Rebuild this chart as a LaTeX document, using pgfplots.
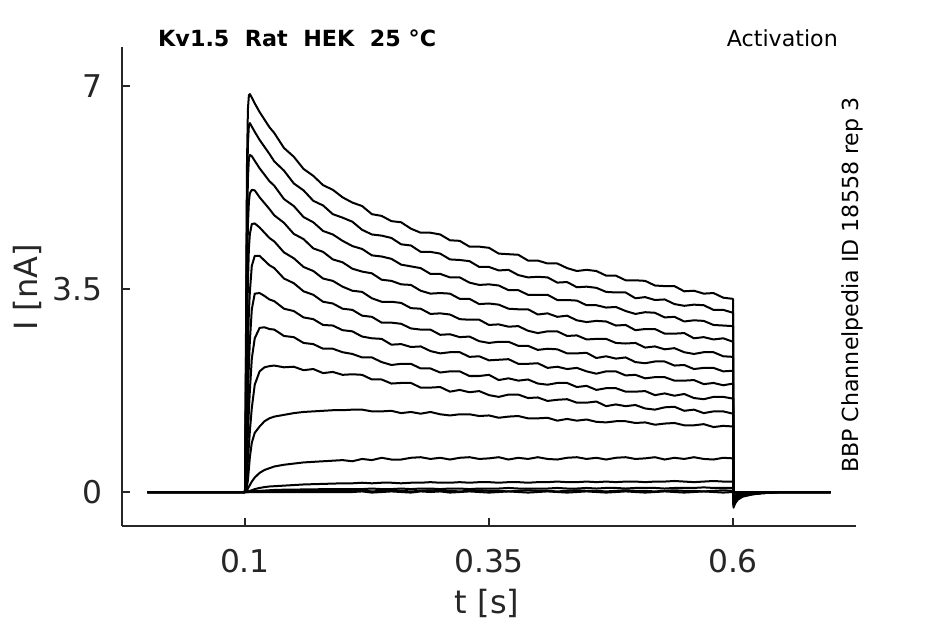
\documentclass[border=0pt]{standalone}
\usepackage{fontspec}
\setmainfont{DejaVu Sans}
\usepackage{pgfplots}
\usepackage{pgfplotstable}
\pgfplotsset{compat=1.18}
\definecolor{axgray}{rgb}{0.15,0.15,0.15}

\pgfplotstableread{
t c1 c2 c3 c4 c5 c6 c7 c8 c9 c10 c11 c12 c13 c14 c15
0 0 0 0 0 0 0 0 0 0 0 0 0 0 0 0
0.02 0 0 0 0 0 0 0 0 0 0 0 0 0 0 0
0.04 0 0 0 0 0 0 0 0 0 0 0 0 0 0 0
0.06 0 0 0 0 0 0 0 0 0 0 0 0 0 0 0
0.08 0 0 0 0 0 0 0 0 0 0 0 0 0 0 0
0.1 0 0 0 0 0 0 0 0 0 0 0 0 0 0 0
0.101 2.6 2.2 1.8 1.4 1.0 0.6 0.4 0.2 0.1 0.03 0.01 0 0 0 0
0.102 5.6 5.0 4.4 3.6 2.6 1.6 1.0 0.6 0.3 0.1 0.03 0.005 0 0 0
0.103 6.6 6.0 5.4 4.6 3.6 2.5 1.6 1.0 0.55 0.2 0.06 0.01 0.005 0 0
0.104 6.84 6.32 5.75 5.0 4.2 3.1 2.2 1.4 0.8 0.4 0.09 0.015 0.005 0 0
0.105 6.86 6.36 5.81 5.15 4.45 3.45 2.6 1.75 1.05 0.6 0.12 0.02 0.01 0.005 0
0.107 6.80 6.30 5.79 5.21 4.62 3.90 3.15 2.3 1.45 0.85 0.18 0.03 0.01 0.005 0
0.11 6.70 6.21 5.71 5.20 4.63 4.07 3.42 2.65 1.85 1.02 0.25 0.05 0.015 0.01 0
0.115 6.55 6.07 5.58 5.08 4.56 4.07 3.43 2.83 2.08 1.13 0.33 0.07 0.02 0.01 0
0.12 6.42 5.95 5.47 4.98 4.47 3.99 3.38 2.84 2.15 1.22 0.38 0.085 0.025 0.01 0
0.125 6.29 5.83 5.36 4.88 4.38 3.91 3.32 2.81 2.17 1.27 0.41 0.095 0.03 0.015 0
0.13 6.19 5.70 5.28 4.77 4.32 3.86 3.29 2.80 2.18 1.30 0.44 0.10 0.035 0.015 0
0.14 5.93 5.54 5.05 4.64 4.13 3.68 3.16 2.69 2.15 1.33 0.47 0.11 0.04 0.02 0
0.15 5.78 5.32 4.93 4.45 4.03 3.60 3.12 2.67 2.16 1.36 0.49 0.12 0.04 0.02 0
0.16 5.57 5.20 4.74 4.36 3.88 3.46 3.01 2.57 2.10 1.38 0.51 0.13 0.045 0.02 0
0.17 5.45 5.02 4.65 4.20 3.81 3.40 2.98 2.55 2.12 1.39 0.52 0.135 0.045 0.02 0
0.18 5.29 4.94 4.50 4.14 3.68 3.28 2.88 2.47 2.05 1.40 0.53 0.14 0.05 0.02 0
0.19 5.21 4.79 4.44 4.01 3.64 3.25 2.87 2.47 2.07 1.41 0.54 0.145 0.05 0.02 0
0.20 5.08 4.73 4.33 3.96 3.54 3.16 2.79 2.41 2.02 1.41 0.55 0.15 0.05 0.02 0
0.21 4.99 4.66 4.24 3.85 3.47 3.14 2.77 2.38 2.03 1.42 0.53 0.15 0.05 0.02 0.00
0.22 4.93 4.52 4.19 3.80 3.45 3.04 2.68 2.32 2.02 1.42 0.57 0.16 0.05 0.03 0.01
0.23 4.79 4.44 4.08 3.77 3.34 3.02 2.65 2.32 1.94 1.39 0.55 0.15 0.06 0.01 -0.01
0.24 4.76 4.42 4.06 3.66 3.28 2.92 2.64 2.24 1.94 1.39 0.59 0.16 0.05 0.02 0.00
0.25 4.67 4.38 4.02 3.64 3.28 2.92 2.54 2.19 1.87 1.40 0.56 0.16 0.05 0.03 0.01
0.26 4.65 4.27 3.92 3.58 3.26 2.90 2.55 2.21 1.88 1.36 0.56 0.15 0.06 0.02 0.00
0.27 4.54 4.25 3.89 3.57 3.17 2.82 2.50 2.21 1.88 1.38 0.59 0.16 0.05 0.01 -0.01
0.28 4.47 4.14 3.86 3.47 3.16 2.80 2.51 2.13 1.80 1.35 0.60 0.16 0.06 0.02 0.01
0.29 4.47 4.14 3.76 3.42 3.07 2.80 2.43 2.13 1.80 1.38 0.57 0.17 0.06 0.03 0.00
0.30 4.44 4.11 3.76 3.43 3.08 2.71 2.39 2.06 1.81 1.34 0.59 0.16 0.05 0.02 0.01
0.31 4.34 4.01 3.70 3.42 3.06 2.72 2.41 2.08 1.73 1.32 0.56 0.16 0.06 0.02 -0.01
0.32 4.33 4.00 3.70 3.33 2.98 2.67 2.41 2.08 1.76 1.34 0.59 0.17 0.06 0.01 0.00
0.33 4.23 3.98 3.61 3.33 2.97 2.68 2.33 2.00 1.72 1.34 0.60 0.16 0.05 0.02 0.01
0.34 4.23 3.88 3.57 3.24 2.97 2.60 2.34 2.00 1.74 1.31 0.57 0.17 0.06 0.03 0.00
0.35 4.21 3.88 3.58 3.25 2.88 2.57 2.27 2.02 1.67 1.32 0.58 0.17 0.06 0.02 -0.01
0.36 4.11 3.82 3.56 3.23 2.89 2.59 2.28 1.93 1.64 1.28 0.60 0.16 0.06 0.02 0.00
0.37 4.10 3.83 3.48 3.16 2.85 2.59 2.29 1.96 1.68 1.30 0.56 0.17 0.07 0.01 0.01
0.38 4.09 3.74 3.48 3.15 2.86 2.52 2.21 1.92 1.68 1.31 0.59 0.17 0.06 0.02 0.00
0.39 3.99 3.70 3.40 3.15 2.78 2.52 2.21 1.94 1.62 1.27 0.57 0.16 0.06 0.03 -0.01
0.40 3.99 3.71 3.40 3.06 2.74 2.45 2.22 1.87 1.63 1.27 0.60 0.17 0.06 0.02 0.00
0.41 3.94 3.70 3.40 3.08 2.77 2.47 2.14 1.85 1.57 1.28 0.57 0.17 0.06 0.02 0.01
0.42 3.94 3.61 3.31 3.02 2.77 2.46 2.16 1.88 1.59 1.23 0.56 0.18 0.07 0.01 0.00
0.43 3.86 3.62 3.31 3.04 2.69 2.39 2.12 1.88 1.60 1.26 0.59 0.17 0.06 0.02 -0.01
0.44 3.81 3.53 3.30 2.96 2.70 2.39 2.14 1.81 1.54 1.23 0.60 0.17 0.06 0.03 0.00
0.45 3.83 3.54 3.22 2.93 2.63 2.40 2.08 1.83 1.54 1.25 0.57 0.18 0.07 0.02 0.01
0.46 3.81 3.52 3.22 2.95 2.64 2.31 2.04 1.76 1.56 1.21 0.59 0.17 0.06 0.02 0.00
0.47 3.73 3.45 3.18 2.94 2.64 2.34 2.08 1.79 1.48 1.20 0.56 0.18 0.07 0.01 -0.01
0.48 3.73 3.44 3.19 2.87 2.57 2.30 2.08 1.79 1.51 1.22 0.59 0.17 0.07 0.02 0.00
0.49 3.65 3.44 3.12 2.88 2.56 2.32 2.01 1.73 1.48 1.22 0.60 0.18 0.06 0.03 0.01
0.50 3.65 3.34 3.07 2.79 2.57 2.24 2.02 1.73 1.50 1.19 0.57 0.18 0.07 0.02 0.00
0.51 3.64 3.36 3.10 2.81 2.49 2.22 1.96 1.74 1.44 1.20 0.58 0.17 0.07 0.02 -0.01
0.52 3.56 3.31 3.09 2.81 2.51 2.25 1.98 1.67 1.42 1.16 0.60 0.18 0.07 0.01 0.00
0.53 3.55 3.32 3.01 2.73 2.46 2.25 1.98 1.70 1.46 1.18 0.56 0.18 0.06 0.02 0.01
0.54 3.55 3.24 3.02 2.73 2.48 2.18 1.92 1.66 1.47 1.19 0.59 0.19 0.07 0.03 0.00
0.55 3.46 3.21 2.94 2.74 2.41 2.19 1.92 1.69 1.40 1.15 0.57 0.18 0.07 0.02 -0.01
0.56 3.47 3.23 2.96 2.65 2.38 2.12 1.93 1.62 1.42 1.15 0.60 0.17 0.07 0.02 0.00
0.57 3.42 3.22 2.95 2.67 2.41 2.14 1.86 1.60 1.36 1.17 0.57 0.18 0.08 0.01 0.01
0.58 3.43 3.14 2.88 2.63 2.41 2.14 1.88 1.64 1.39 1.12 0.56 0.19 0.07 0.02 0.00
0.59 3.35 3.14 2.87 2.65 2.34 2.08 1.84 1.64 1.39 1.14 0.59 0.18 0.07 0.03 -0.01
0.60 3.33 3.09 2.86 2.59 2.33 2.09 1.87 1.61 1.35 1.13 0.58 0.18 0.07 0.02 0.00
0.6005 -0.27 -0.25 -0.23 -0.21 -0.19 -0.17 -0.15 -0.13 -0.11 -0.09 -0.05 -0.02 -0.01 0 0
0.602 -0.20 -0.19 -0.17 -0.16 -0.14 -0.13 -0.11 -0.10 -0.08 -0.07 -0.03 -0.01 0 0 0
0.605 -0.13 -0.12 -0.11 -0.10 -0.09 -0.08 -0.07 -0.06 -0.05 -0.04 -0.02 0 0 0 0
0.61 -0.08 -0.07 -0.07 -0.06 -0.06 -0.05 -0.04 -0.04 -0.03 -0.03 -0.01 0 0 0 0
0.62 -0.04 -0.04 -0.03 -0.03 -0.03 -0.03 -0.02 -0.02 -0.02 -0.01 0 0 0 0 0
0.63 -0.02 -0.02 -0.02 -0.01 -0.01 -0.01 -0.01 -0.01 -0.01 0 0 0 0 0 0
0.65 0 0 0 0 0 0 0 0 0 0 0 0 0 0 0
0.70 0 0 0 0 0 0 0 0 0 0 0 0 0 0 0
}\tracedata

\begin{document}
\begin{tikzpicture}
\useasboundingbox (-91.5pt,-73.5pt) rectangle (617.25pt,394.5pt);
\begin{axis}[
  at={(0pt,0pt)}, anchor=south west,
  scale only axis,
  width=550.5pt, height=359.25pt,
  xmin=-0.026, xmax=0.726,
  ymin=-0.586, ymax=7.672,
  axis x line*=bottom, axis y line*=left,
  axis line style={-, axgray, line width=0.8pt},
  tick align=inside,
  major tick length=6pt,
  tick style={axgray, line width=0.8pt},
  xtick={0.1,0.35,0.6}, xticklabels={0.1,0.35,0.6},
  ytick={0,3.5,7}, yticklabels={0,3.5,7},
  /pgf/number format/assume math mode=true,
  xticklabel style={font=\fontsize{23.5}{28}\selectfont, text=axgray, anchor=base, yshift=-34.5pt},
  yticklabel style={font=\fontsize{23.5}{28}\selectfont, text=axgray, anchor=base east, inner sep=0pt, xshift=-14.25pt, yshift=-8.6pt},
  xlabel={t [s]},
  ylabel={I [nA]},
  xlabel style={font=\fontsize{24}{28}\selectfont, text=axgray, at={(axis description cs:0.4973,-0.1837)}, anchor=base},
  ylabel style={font=\fontsize{24}{28}\selectfont, text=axgray, at={(axis description cs:-0.1151,0.4979)}, anchor=base},
  clip=false,
]
\pgfplotsinvokeforeach{c15,c14,c13,c12,c11,c10,c9,c8,c7,c6,c5,c4,c3,c2,c1}{
  \addplot[black, line width=1.5pt, line join=round] table[x=t, y=#1] {\tracedata};
}
\node[anchor=base west, inner sep=0pt, font=\fontsize{16.7}{19}\selectfont\bfseries, text=black] at (axis description cs:0.049,1.0006) {Kv1.5~~Rat~~HEK~~25~°C};
\node[anchor=base east, inner sep=0pt, font=\fontsize{16.6}{19}\selectfont, text=black] at (axis description cs:0.9755,1.0) {Activation};
\node[anchor=base, inner sep=0pt, rotate=90, font=\fontsize{16.6}{19}\selectfont, text=black] at (axis description cs:1.003,0.503) {BBP Channelpedia ID 18558 rep 3};
\end{axis}
\end{tikzpicture}
\end{document}
